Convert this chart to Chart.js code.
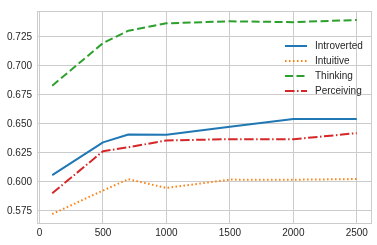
<!DOCTYPE html>
<html>
<head>
<meta charset="utf-8">
<script src="https://cdn.jsdelivr.net/npm/chart.js@4/dist/chart.umd.min.js"></script>
<style>
  html, body { margin: 0; padding: 0; background: #fff; }
  #wrap { width: 377px; height: 245px; }
</style>
</head>
<body>
<div id="wrap"><canvas id="chart" width="377" height="245"></canvas></div>
<script>
// valores
const sizes = [100, 500, 700, 1000, 1500, 2000, 2500];
const introverted = [0.6057, 0.6340, 0.6408, 0.6407, 0.6475, 0.6542, 0.6542];
const intuitive   = [0.5722, 0.5925, 0.6023, 0.5947, 0.6019, 0.6018, 0.6024];
const thinking    = [0.6829, 0.7197, 0.7304, 0.7368, 0.7385, 0.7378, 0.7396];
const perceiving  = [0.5901, 0.6264, 0.6298, 0.6357, 0.6368, 0.6367, 0.6420];
const xTicks = [0, 500, 1000, 1500, 2000, 2500];
const yTicks = [0.575, 0.600, 0.625, 0.650, 0.675, 0.700, 0.725];

const FONT = '"Liberation Sans", Arial, sans-serif';
const GRID = '#cccccc';

function pts(ys) { return sizes.map((x, i) => ({ x, y: ys[i] })); }

function ds(label, data, color, dash) {
  return {
    label, data: pts(data), borderColor: color, backgroundColor: color,
    borderWidth: 2, borderDash: dash, borderJoinStyle: 'round',
    pointRadius: 0, tension: 0, fill: false
  };
}

// legenda dentro da área do gráfico, sem moldura (estilo matplotlib)
const innerLegend = {
  id: 'innerLegend',
  afterDatasetsDraw(chart) {
    const { ctx, chartArea } = chart;
    const x0 = chartArea.right - 87;
    let y = chartArea.top + 35;
    ctx.save();
    chart.data.datasets.forEach(d => {
      ctx.strokeStyle = d.borderColor;
      ctx.lineWidth = d.borderWidth;
      ctx.setLineDash(d.borderDash || []);
      ctx.beginPath();
      ctx.moveTo(x0, y);
      ctx.lineTo(x0 + 22, y);
      ctx.stroke();
      ctx.setLineDash([]);
      ctx.fillStyle = '#262626';
      ctx.font = '10px ' + FONT;
      ctx.textBaseline = 'middle';
      ctx.fillText(d.label, x0 + 30, y + 0.5);
      y += 15;
    });
    ctx.restore();
  }
};

const frame = {
  id: 'frame',
  beforeDatasetsDraw(chart) {
    const { ctx, chartArea: a } = chart;
    ctx.save();
    ctx.strokeStyle = GRID;
    ctx.lineWidth = 1;
    ctx.strokeRect(a.left + 0.5, a.top + 0.5, a.right - a.left - 1, a.bottom - a.top - 1);
    ctx.restore();
  }
};

new Chart(document.getElementById('chart').getContext('2d'), {
  type: 'line',
  data: {
    datasets: [
      ds('Introverted', introverted, '#1f77b4', []),
      ds('Intuitive', intuitive, '#ff7f0e', [1.5, 2.5]),
      ds('Thinking', thinking, '#2ca02c', [8, 3.5]),
      ds('Perceiving', perceiving, '#d62728', [9.5, 2.5, 1.5, 2.5])
    ]
  },
  options: {
    responsive: false,
    animation: false,
    devicePixelRatio: 1,
    layout: { padding: { top: 7, right: 5, left: 0, bottom: 0 } },
    plugins: { legend: { display: false }, tooltip: { enabled: false } },
    scales: {
      x: {
        type: 'linear', min: -20, max: 2620,
        afterBuildTicks: s => { s.ticks = xTicks.map(v => ({ value: v })); },
        afterFit: s => { s.height = 21; },
        grid: { color: GRID, drawTicks: false },
        border: { display: false },
        ticks: { padding: 3, color: '#262626', font: { family: FONT, size: 10 }, maxRotation: 0, callback: v => String(v) }
      },
      y: {
        type: 'linear', min: 0.5636, max: 0.7474,
        afterBuildTicks: s => { s.ticks = yTicks.map(v => ({ value: v })); },
        afterFit: s => { s.width = 37; },
        grid: { color: GRID, drawTicks: false },
        border: { display: false },
        ticks: { padding: 5, color: '#262626', font: { family: FONT, size: 10 }, callback: v => v.toFixed(3) }
      }
    }
  },
  plugins: [frame, innerLegend]
});
</script>
</body>
</html>
